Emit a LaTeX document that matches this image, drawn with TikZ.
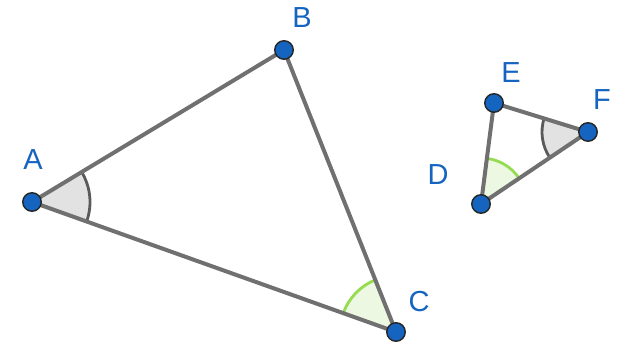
\documentclass[tikz,border=0pt]{standalone}
\usepackage{fontspec}
\setmainfont{Liberation Sans}
\usepackage{xcolor}
\usetikzlibrary{angles,positioning,calc}

\definecolor{ggblue}{RGB}{21,101,192}
\definecolor{gggray}{RGB}{112,112,112}
\definecolor{ggarc}{RGB}{90,90,90}
\definecolor{gggreen}{RGB}{150,220,80}
\definecolor{ggfillgreen}{RGB}{236,248,226}
\definecolor{ggfillgray}{RGB}{226,226,226}

\begin{document}
\begin{tikzpicture}[
    x=1pt, y=1pt,
    vertex/.style={circle, draw=black!85, fill=ggblue, line width=1.4pt, minimum size=18.5pt, inner sep=0pt},
    side/.style={draw=gggray, line width=4pt},
    greyangle/.style={draw=ggarc, fill=ggfillgray, line width=2.8pt},
    greenangle/.style={draw=gggreen, fill=ggfillgreen, line width=2.8pt},
    ptlabel/.style={text=ggblue, font=\fontsize{29}{32}\selectfont, inner sep=0pt}
]
    \useasboundingbox (0,0) rectangle (617,347);

    % Points
    \coordinate (A) at (32,145);
    \coordinate (B) at (284,297);
    \coordinate (C) at (396,15);
    \coordinate (D) at (481,143);
    \coordinate (E) at (494,244);
    \coordinate (F) at (588,215);

    % Angles
    \pic[greyangle, angle radius=58pt] {angle=C--A--B};
    \pic[greenangle, angle radius=56pt] {angle=B--C--A};
    \pic[greyangle, angle radius=46pt] {angle=E--F--D};
    \pic[greenangle, angle radius=46pt] {angle=F--D--E};

    % Sides
    \draw[side] (A) -- (B) -- (C) -- cycle;
    \draw[side] (D) -- (E) -- (F) -- cycle;

    % Vertex dots
    \foreach \p in {A,B,C,D,E,F}
        \node[vertex] (dot\p) at (\p) {};

    % Labels
    \node[ptlabel] (labA) at (33,187) {A};
    \node[ptlabel] (labB) at (302,329) {B};
    \node[ptlabel] (labC) at (419,45) {C};
    \node[ptlabel] (labD) at (438,172) {D};
    \node[ptlabel] (labE) at (511,274) {E};
    \node[ptlabel] (labF) at (602,247) {F};
\end{tikzpicture}
\end{document}
